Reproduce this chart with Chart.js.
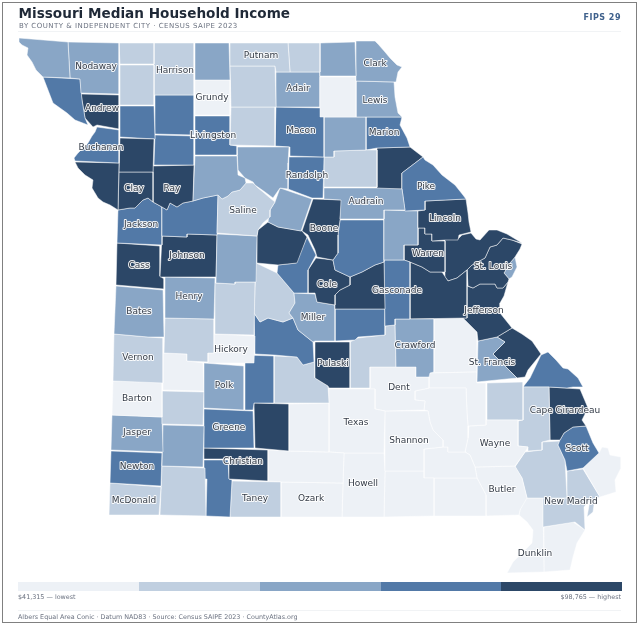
<!DOCTYPE html>
<html><head><meta charset="utf-8">
<style>
html,body{margin:0;padding:0;background:#fff;width:640px;height:627px;overflow:hidden;font-family:"DejaVu Sans",sans-serif}
#frame{position:absolute;left:2px;top:2px;width:633px;height:619px;border:1px solid #808080}
#c{position:absolute;left:0;top:0}
.t{position:absolute;white-space:nowrap;line-height:1}
#title{left:18.5px;top:6.5px;font-size:13.6px;font-weight:700;color:#1f2937}
#sub{left:19px;top:23px;font-size:7px;color:#6b7280;letter-spacing:.48px}
#fips{right:19px;top:13.5px;font-size:8px;font-weight:700;color:#3f618c;letter-spacing:.5px}
#lo{left:18px;top:594px;font-size:6.4px;color:#6b7280}
#hi{right:19px;top:594px;font-size:6.4px;color:#6b7280}
#foot{left:18px;top:613.5px;font-size:6.4px;color:#6b7280}
.rule{position:absolute;left:18px;width:603px;height:1px;background:#f1f3f5}
</style></head><body>
<canvas id="c" width="640" height="627" style="width:640px;height:627px"></canvas>
<div id="frame"></div>
<div class="t" id="title">Missouri Median Household Income</div>
<div class="t" id="sub">BY COUNTY &amp; INDEPENDENT CITY · CENSUS SAIPE 2023</div>
<div class="t" id="fips">FIPS 29</div>
<div class="rule" style="top:31px"></div>
<div class="t" id="lo">$41,315 — lowest</div>
<div class="t" id="hi">$98,765 — highest</div>
<div class="rule" style="top:610px"></div>
<div class="t" id="foot">Albers Equal Area Conic · Datum NAD83 · Source: Census SAIPE 2023 · CountyAtlas.org</div>
<script src="https://cdn.jsdelivr.net/npm/chart.js@4"></script>
<script>
const binColors = ["#edf1f6","#c0cfe0","#89a6c6","#5279a7","#2c4767"];
const legendEdges = [18,139,260,381,501,622];
const legendBand = [582,591];

const countyBins = [
2,2,3,4,3,4,4,4,
1,1,1,2,0,1,1,1,2,2,0,2,2,
3,3,3,1,3,2,2,1,4,3,3,2,4,4,
3,3,2,2,2,1,3,3,4,4,4,4,2,2,1,3,2,3,4,4,2,3,3,4,2,4,4,4,4,2,4,2,
1,1,1,2,0,0,0,1,3,3,2,2,3,4,4,3,4,1,1,1,1,3,1,
0,0,0,0,0,0,0,0,0,0,0,0,0,0,0,
1,1,3,4,3,1,0,1,0,0
];

const countyOutlines = [
/*Atchison*/[[19,38],[68,42],[70,78],[43,77],[36,70],[32,62],[27,55],[28,48],[22,45],[19,42]],
/*Nodaway*/[[68,42],[119,43],[119,94],[81,93],[80,79],[70,78]],
/*Holt*/[[43,77],[80,79],[82,100],[85,118],[88,125],[75,120],[67,113],[53,103],[48,90]],
/*Andrew*/[[81,94],[119,95],[119,129],[97,125],[93,127],[85,118],[82,100]],
/*Buchanan*/[[97,127],[119,130],[119,163],[75,161],[74,158],[78,153],[83,148],[88,143],[92,136],[95,132]],
/*Platte*/[[75,162],[119,163],[118,210],[110,205],[103,202],[98,198],[92,188],[93,180],[85,175],[78,168]],
/*Clinton*/[[120,138],[154,139],[153,172],[119,172]],
/*Clay*/[[119,172],[153,172],[153,202],[148,198],[143,200],[135,208],[130,208],[118,210]],
/*Worth*/[[119,43],[154,43],[154,64],[120,64]],
/*Gentry*/[[120,65],[154,65],[154,105],[120,105]],
/*Harrison*/[[154,43],[194,43],[194,95],[154,95],[154,65]],
/*Mercer*/[[195,43],[229,43],[230,80],[195,80]],
/*Grundy*/[[195,80],[230,80],[230,115],[195,115]],
/*Putnam*/[[230,43],[288,43],[290,72],[276,72],[275,66],[230,66]],
/*Sullivan*/[[230,66],[275,66],[276,107],[231,107]],
/*Schuyler*/[[288,43],[320,43],[320,72],[290,72]],
/*Scotland*/[[320,43],[355,42],[356,76],[320,76]],
/*Clark*/[[356,41],[375,41],[378,44],[385,52],[390,58],[397,65],[402,67],[398,72],[396,82],[356,81]],
/*Knox*/[[320,77],[356,77],[356,117],[320,117]],
/*Lewis*/[[356,81],[394,82],[395,97],[398,113],[402,117],[356,117]],
/*Adair*/[[276,72],[320,72],[320,107],[276,107]],
/*DeKalb*/[[120,106],[154,106],[155,139],[120,137]],
/*Daviess*/[[155,95],[194,95],[194,135],[155,134]],
/*Caldwell*/[[155,135],[194,136],[194,165],[154,165]],
/*Linn*/[[231,107],[275,107],[275,146],[230,145]],
/*Livingston*/[[195,116],[230,116],[230,145],[237,146],[237,155],[195,155]],
/*Carroll*/[[195,156],[237,156],[238,175],[245,178],[246,183],[240,190],[232,192],[228,196],[222,199],[218,195],[203,198],[193,201]],
/*Chariton*/[[237,147],[289,147],[288,163],[288,189],[280,188],[273,198],[265,192],[255,185],[253,182],[245,178],[238,170]],
/*Saline*/[[218,195],[222,199],[228,196],[232,192],[240,190],[246,183],[253,183],[258,188],[263,192],[270,198],[275,202],[270,210],[270,217],[263,223],[258,230],[257,236],[217,233]],
/*Ray*/[[153,166],[194,165],[193,201],[183,203],[177,207],[170,203],[167,210],[162,207],[153,202]],
/*Lafayette*/[[162,207],[167,210],[170,203],[177,207],[183,203],[193,201],[203,198],[218,195],[217,235],[187,234],[187,237],[162,236]],
/*Jackson*/[[118,210],[130,208],[135,208],[143,200],[148,198],[153,202],[162,207],[162,245],[117,243]],
/*Pettis*/[[217,234],[257,236],[256,282],[235,282],[235,284],[216,283]],
/*Johnson*/[[162,236],[187,237],[187,234],[217,235],[216,277],[160,277]],
/*Cass*/[[117,243],[160,246],[160,276],[164,279],[164,289],[116,285]],
/*Macon*/[[276,107],[324,108],[324,157],[290,156],[290,147],[275,146]],
/*Randolph*/[[289,157],[324,157],[323,198],[312,198],[288,189]],
/*Shelby*/[[324,117],[366,117],[366,150],[334,151],[334,157],[324,157]],
/*Howard*/[[280,188],[312,199],[301,231],[278,227],[268,222],[270,210],[275,202]],
/*Audrain*/[[324,188],[377,188],[402,189],[405,210],[384,210],[384,219],[340,219],[341,200],[324,199]],
/*Monroe*/[[334,151],[366,150],[377,150],[377,187],[324,187],[324,157],[334,157]],
/*Marion*/[[366,117],[402,117],[400,125],[407,138],[410,147],[377,148],[366,150]],
/*Pike*/[[402,173],[423,157],[425,160],[433,165],[442,175],[455,185],[463,195],[466,199],[425,201],[425,210],[405,211],[402,189]],
/*Ralls*/[[377,148],[410,147],[423,157],[402,173],[402,189],[377,189]],
/*Boone*/[[313,199],[342,200],[340,220],[338,235],[338,253],[333,260],[317,257],[315,250],[308,235],[302,231]],
/*Cooper*/[[258,230],[268,222],[278,227],[302,231],[307,237],[297,263],[278,265],[257,263],[257,236]],
/*Lincoln*/[[425,201],[466,199],[468,213],[469,222],[471,232],[459,235],[458,240],[445,240],[432,241],[432,234],[425,234],[425,228],[418,228],[418,211],[425,210]],
/*Bates*/[[116,286],[163,290],[164,337],[148,337],[114,334]],
/*Henry*/[[165,277],[215,278],[214,319],[165,318]],
/*Benton*/[[215,283],[235,284],[235,282],[255,282],[254,335],[215,334]],
/*Moniteau*/[[307,237],[316,255],[308,270],[308,293],[294,293],[277,273],[278,265],[296,263]],
/*Montgomery*/[[384,210],[418,211],[418,245],[404,245],[404,260],[384,260]],
/*Callaway*/[[340,220],[384,220],[384,262],[375,265],[362,272],[350,277],[335,270],[333,260],[338,253],[338,235]],
/*Cole*/[[316,258],[333,260],[335,270],[350,277],[350,285],[340,290],[335,295],[335,305],[317,302],[315,293],[308,293],[308,270]],
/*Osage*/[[335,295],[340,290],[350,285],[350,277],[362,272],[375,265],[384,262],[385,309],[335,309]],
/*Miller*/[[294,293],[315,294],[317,302],[335,305],[335,341],[315,341],[313,342],[298,330],[293,318],[289,313],[295,303]],
/*Gasconade*/[[384,260],[404,260],[410,262],[410,319],[395,319],[395,325],[385,326]],
/*Maries*/[[335,309],[385,309],[385,335],[358,337],[355,340],[335,341]],
/*Warren*/[[418,228],[425,228],[425,234],[432,234],[432,241],[445,241],[445,272],[442,272],[430,272],[422,267],[410,262],[404,260],[404,245],[418,245]],
/*Crawford*/[[395,319],[434,319],[434,372],[430,373],[429,377],[416,377],[416,367],[396,367]],
/*Franklin*/[[410,262],[422,267],[430,272],[442,272],[448,281],[457,278],[467,270],[467,318],[410,319]],
/*St. Charles*/[[445,239],[458,239],[462,235],[471,233],[476,239],[480,240],[489,230],[497,230],[507,234],[522,243],[512,240],[503,238],[497,245],[490,247],[485,258],[472,265],[467,270],[457,278],[448,281],[445,277]],
/*St. Louis*/[[503,238],[512,240],[522,244],[520,249],[515,257],[510,263],[504,273],[509,279],[508,282],[503,288],[497,288],[495,284],[480,284],[473,288],[468,286],[467,270],[472,265],[485,258],[490,247],[497,245]],
/*Jefferson*/[[467,286],[473,288],[480,284],[495,284],[497,288],[503,288],[508,282],[504,296],[500,303],[500,313],[508,323],[512,328],[497,337],[478,341],[477,332],[463,318],[467,318]],
/*St. Francois*/[[478,341],[497,337],[505,342],[493,354],[517,378],[477,382]],
/*Ste. Genevieve*/[[497,337],[512,328],[522,334],[532,341],[541,354],[528,370],[525,377],[517,378],[493,354],[505,342]],
/*St. Louis City*/[[515,257],[517,267],[512,277],[509,279],[504,273],[510,263]],
/*Vernon*/[[114,334],[148,337],[163,338],[163,383],[113,381]],
/*St. Clair*/[[165,318],[214,319],[214,353],[208,353],[208,362],[187,361],[187,354],[164,353]],
/*Morgan*/[[256,263],[277,273],[294,293],[295,303],[289,313],[293,318],[283,322],[268,318],[260,322],[254,313]],
/*Polk*/[[204,363],[244,366],[244,410],[204,408]],
/*Hickory*/[[214,334],[255,336],[254,363],[208,363],[208,353],[214,353]],
/*Cedar*/[[163,353],[187,354],[187,361],[203,363],[204,391],[163,390]],
/*Barton*/[[113,381],[162,382],[162,417],[112,415]],
/*Dade*/[[162,391],[204,392],[203,425],[162,424]],
/*Dallas*/[[245,355],[274,356],[274,403],[254,403],[253,410],[245,410]],
/*Camden*/[[254,313],[260,322],[268,318],[283,322],[293,318],[298,330],[313,342],[314,362],[303,365],[297,357],[274,355],[255,354]],
/*Jasper*/[[112,415],[162,417],[163,452],[111,450]],
/*Lawrence*/[[163,425],[204,426],[203,467],[162,466]],
/*Greene*/[[204,409],[253,411],[254,448],[204,448]],
/*Webster*/[[254,403],[289,404],[289,451],[255,448]],
/*Christian*/[[204,448],[268,450],[268,481],[229,479],[229,459],[204,459]],
/*Newton*/[[111,451],[162,453],[161,486],[110,483]],
/*Pulaski*/[[315,342],[350,342],[350,388],[329,388],[328,386],[315,378]],
/*Laclede*/[[274,356],[297,357],[303,365],[314,362],[315,358],[315,378],[328,386],[329,403],[274,403]],
/*Phelps*/[[350,342],[358,338],[385,335],[385,326],[395,325],[396,367],[370,367],[370,388],[350,388]],
/*McDonald*/[[110,483],[161,487],[159,515],[109,515]],
/*Barry*/[[162,466],[205,468],[206,516],[160,515]],
/*Stone*/[[204,460],[228,460],[229,479],[232,480],[230,517],[206,516],[207,479],[204,479]],
/*Taney*/[[232,481],[281,482],[281,517],[230,517]],
/*Wright*/[[289,404],[329,403],[329,452],[289,451]],
/*Douglas*/[[268,450],[289,451],[329,452],[344,453],[343,483],[281,482],[268,481]],
/*Ozark*/[[281,482],[343,483],[342,517],[281,517]],
/*Texas*/[[329,389],[375,389],[375,409],[385,411],[384,453],[344,453],[329,452]],
/*Dent*/[[370,367],[416,367],[416,377],[429,377],[429,388],[415,391],[415,400],[425,401],[424,410],[385,411],[375,409],[375,389],[370,389]],
/*Shannon*/[[385,411],[428,411],[430,422],[433,430],[443,440],[443,447],[424,449],[424,471],[385,471]],
/*Howell*/[[344,453],[384,453],[385,471],[384,517],[342,517]],
/*Oregon*/[[385,471],[424,471],[424,478],[434,478],[434,516],[384,517]],
/*Reynolds*/[[415,391],[429,388],[466,388],[467,413],[468,426],[468,438],[465,452],[448,452],[448,447],[443,447],[443,440],[433,430],[430,422],[428,411],[424,410],[425,401],[415,400]],
/*Iron*/[[429,373],[477,372],[477,383],[486,383],[486,425],[468,426],[467,413],[466,388],[429,388]],
/*Washington*/[[434,319],[463,318],[477,332],[477,372],[430,373],[434,372]],
/*Carter*/[[448,452],[465,452],[470,455],[475,467],[477,478],[434,478],[424,478],[424,449],[443,447],[448,447]],
/*Ripley*/[[434,478],[477,478],[486,495],[486,516],[434,516]],
/*Wayne*/[[469,426],[486,425],[486,420],[518,420],[518,446],[528,447],[525,452],[515,466],[475,467],[470,455],[465,452],[468,438]],
/*Butler*/[[475,467],[515,466],[522,478],[527,498],[520,510],[519,515],[486,516],[486,495],[477,478]],
/*Madison*/[[487,383],[523,382],[523,420],[487,420]],
/*Bollinger*/[[523,387],[549,387],[550,440],[542,442],[542,450],[528,451],[528,447],[518,446],[518,421],[523,420]],
/*Perry*/[[523,387],[530,378],[541,355],[548,352],[556,360],[563,368],[568,369],[578,378],[583,387],[573,387],[567,388],[549,387]],
/*Cape Girardeau*/[[549,387],[580,389],[588,408],[582,420],[586,426],[573,427],[564,433],[560,440],[550,440]],
/*Scott*/[[586,426],[593,443],[599,453],[583,468],[567,471],[565,460],[558,445],[560,440],[564,433],[573,427]],
/*Stoddard*/[[542,442],[560,441],[558,445],[565,460],[567,498],[527,498],[522,478],[515,467],[525,452],[542,450]],
/*Mississippi*/[[583,468],[599,453],[602,447],[608,448],[610,455],[621,457],[621,468],[615,480],[616,492],[600,497]],
/*New Madrid*/[[567,471],[583,469],[600,497],[595,498],[593,512],[587,517],[590,500],[584,507],[585,530],[575,522],[543,527],[543,498],[567,498]],
/*Dunklin*/[[520,510],[525,498],[543,498],[544,572],[507,573],[513,562],[532,543],[533,530],[527,522],[519,515]],
/*Pemiscot*/[[544,527],[573,522],[585,530],[577,543],[573,557],[570,570],[544,572]]
];

const labelNames = ["Nodaway","Harrison","Putnam","Grundy","Adair","Clark","Lewis","Macon","Marion","Livingston","Andrew","Buchanan","Randolph","Audrain","Pike","Saline","Clay","Ray","Jackson","Boone","Lincoln","Warren","St. Louis","Cass","Johnson","Cole","Gasconade","Henry","Bates","Jefferson","Miller","Crawford","Vernon","Hickory","Polk","Pulaski","St. Francis","Dent","Barton","Texas","Cape Girardeau","Jasper","Greene","Shannon","Wayne","Scott","Christian","Newton","Howell","Butler","Taney","Ozark","McDonald","New Madrid","Dunklin"];
const labelX = [96,175,261,212,298,375,375,301,384,213,102,101,307,366,426,243,134,172,141,324,445,428,493,139,187,327,397,189,139,484,313,415,138,231,224,333,492,399,137,356,565,137,229,409,495,577,243,137,363,502,255,311,134,571,535];
const labelY = [67,71,56,98,89,64,101,131,133,136,109,148,176,202,187,211,189,189,225,229,219,254,267,266,256,285,291,297,312,311,318,346,358,350,386,364,363,388,399,423,411,433,428,441,444,449,462,467,484,490,499,499,501,502,554];

const toPoints = ring => ring.concat([ring[0]]).map(p => ({x:p[0], y:p[1]}));
const datasets = countyOutlines.map((ring,i) => ({
  data: toPoints(ring), showLine:true, fill:'shape', pointRadius:0,
  backgroundColor: binColors[countyBins[i]], borderColor:'#ffffff', borderWidth:0.5, tension:0
}));
binColors.forEach((col,i) => {
  const a=legendEdges[i], b=legendEdges[i+1], t=legendBand[0], u=legendBand[1];
  datasets.push({data:toPoints([[a,t],[b,t],[b,u],[a,u]]), showLine:true, fill:'shape', pointRadius:0,
    backgroundColor:col, borderColor:col, borderWidth:0});
});

const labelPlugin = {
  id:'countyLabels',
  afterDatasetsDraw(chart){
    const {ctx, scales:{x,y}} = chart;
    ctx.save();
    ctx.font = '9px "DejaVu Sans"';
    ctx.textAlign='center'; ctx.textBaseline='middle'; ctx.lineJoin='round';
    labelNames.forEach((n,i)=>{
      const px=x.getPixelForValue(labelX[i]), py=y.getPixelForValue(labelY[i]);
      ctx.lineWidth=2; ctx.strokeStyle='rgba(255,255,255,0.9)';
      ctx.strokeText(n,px,py);
      ctx.fillStyle='#333b47';
      ctx.fillText(n,px,py);
    });
    ctx.restore();
  }
};

new Chart(document.getElementById('c'),{
  type:'scatter',
  data:{datasets},
  plugins:[labelPlugin],
  options:{
    responsive:false, animation:false, events:[], devicePixelRatio:1,
    layout:{padding:0},
    plugins:{legend:{display:false},title:{display:false},tooltip:{enabled:false}},
    scales:{
      x:{type:'linear',min:0,max:640,display:false},
      y:{type:'linear',min:0,max:627,reverse:true,display:false}
    }
  }
});
</script>
</body></html>
